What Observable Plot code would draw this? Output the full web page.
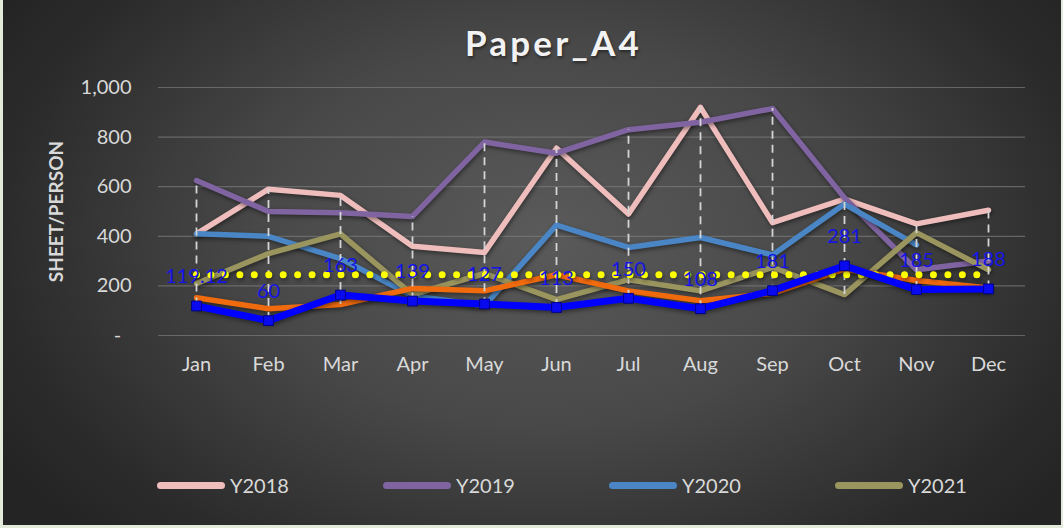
<!DOCTYPE html>
<html>
<head>
<meta charset="utf-8">
<script src="https://cdn.jsdelivr.net/npm/d3@7"></script>
<script src="https://cdn.jsdelivr.net/npm/@observablehq/plot@0.6"></script>
<style>
  html, body { margin: 0; padding: 0; background: #262626; }
  #wrap {
    position: relative; width: 1063px; height: 528px; overflow: hidden;
    font-family: Lato, "Open Sans", sans-serif;
    background: radial-gradient(ellipse 640px 430px at 545px 235px, #5a5a5a 0%, #484848 45%, #2b2b2b 85%, #242424 100%);
    box-shadow: inset 3px 0 0 #e4eadb, inset -2px 0 0 #e4eadb, inset 0 -3px 0 #e4eadb;
  }
  #title {
    position: absolute; top: 21px; left: 22px; width: 1063px; text-align: center;
    font-size: 35px; font-weight: bold; letter-spacing: 3.2px; color: #f2f2f2;
    text-shadow: 1px 2px 3px rgba(0,0,0,0.45);
  }
  #chart { position: absolute; left: 0; top: 0; }
  #legend {
    position: absolute; left: 157px; top: 472px; display: flex;
    font-size: 20px; color: #d9d9d9;
  }
  .item { display: flex; align-items: center; width: 226px; height: 26px; }
  .sw { width: 68px; height: 7px; border-radius: 4px; margin-right: 5px; }
  svg g[aria-label="line"] path { filter: drop-shadow(1px 2px 2px rgba(0,0,0,0.45)); }
</style>
</head>
<body>
<div id="wrap">
  <div id="title">Paper_A4</div>
  <div id="chart"></div>
  <div id="legend"></div>
</div>
<script>
const months = ["Jan","Feb","Mar","Apr","May","Jun","Jul","Aug","Sep","Oct","Nov","Dec"];
const yTicks = [0, 200, 400, 600, 800, 1000];
const legendNames = ["Y2018", "Y2019", "Y2020", "Y2021"];
const y2018 = [410, 590, 565, 360, 335, 755, 490, 920, 455, 550, 450, 505];
const y2019 = [625, 500, 495, 480, 780, 735, 830, 860, 915, 555, 265, 300];
const y2020 = [410, 400, 310, 160, 120, 445, 355, 395, 325, 530, 365, null];
const y2021 = [210, 330, 410, 165, 250, 145, 225, 180, 275, 165, 415, 265];
const orangeSeries = [152, 108, 125, 190, 180, 245, 180, 140, 170, 268, 222, 192];
const blueSeries = [119.12, 60, 163, 139, 127, 113, 150, 108, 181, 281, 185, 188];
const blueLabels = ["119.12", "60", "163", "139", "127", "113", "150", "108", "181", "281", "185", "188"];
const averageLevel = 245;

const seriesNames = ["Y2018", "Y2019", "Y2020", "Y2021", "Orange"];
const seriesColors = ["#f0bdbd", "#8064a2", "#4a86c5", "#9a955e", "#f06a0e"];
const allSeries = [y2018, y2019, y2020, y2021, orangeSeries];

const rows = [];
allSeries.forEach((arr, si) => arr.forEach((v, i) => {
  if (v != null) rows.push({series: seriesNames[si], month: months[i], value: v});
}));
const blueRows = blueSeries.map((v, i) => ({month: months[i], value: v, label: blueLabels[i]}));
const hiLo = months.map((m, i) => {
  const vals = [...allSeries.map(a => a[i]), blueSeries[i]].filter(v => v != null);
  return {month: m, lo: d3.min(vals), hi: d3.max(vals)};
});

const plot = Plot.plot({
  width: 1063,
  height: 400,
  marginLeft: 158,
  marginRight: 38,
  marginTop: 87,
  marginBottom: 65,
  style: {background: "transparent", color: "#d9d9d9", fontFamily: "Lato, sans-serif", fontSize: "20px", overflow: "visible"},
  x: {type: "point", domain: months, padding: 0.5},
  y: {domain: [0, 1000]},
  color: {domain: seriesNames, range: seriesColors},
  marks: [
    Plot.gridY(yTicks, {stroke: "#7a7a7a", strokeOpacity: 0.7, strokeWidth: 1.2}),
    Plot.axisY(yTicks, {tickSize: 0, tickPadding: 27, label: null, fontSize: 20,
      tickFormat: d => d === 0 ? "-\u00a0\u00a0" : d3.format(",")(d)}),
    Plot.axisX({tickSize: 0, tickPadding: 21, label: null, fontSize: 20}),
    Plot.text(["SHEET/PERSON"], {frameAnchor: "left", dx: -102, rotate: -90, textAnchor: "middle",
      lineAnchor: "middle", fontWeight: "bold", fontSize: 19, fill: "#d9d9d9"}),
    Plot.line(rows, {x: "month", y: "value", z: "series", stroke: "series", strokeWidth: 5.5,
      strokeLinejoin: "round", strokeLinecap: "round"}),
    Plot.ruleX(hiLo, {x: "month", y1: "lo", y2: "hi", stroke: "#d4d4d4", strokeWidth: 1.8, strokeDasharray: "8,6"}),
    Plot.line(months, {x: d => d, y: () => averageLevel, stroke: "#ffff00", strokeWidth: 7,
      strokeDasharray: "0,14.45", strokeLinecap: "round"}),
    Plot.line(blueRows, {x: "month", y: "value", stroke: "#0000ff", strokeWidth: 7, strokeLinejoin: "round"}),
    Plot.dot(blueRows, {x: "month", y: "value", symbol: "square", r: 5.5, fill: "#0a0af0", stroke: "#00008a", strokeWidth: 1}),
    Plot.text(blueRows, {x: "month", y: "value", text: "label", dy: -29, fontSize: 20, fill: "#1414e6", lineAnchor: "middle"})
  ]
});
document.getElementById("chart").appendChild(plot);

const legend = document.getElementById("legend");
legendNames.forEach((name, i) => {
  const item = document.createElement("div");
  item.className = "item";
  const sw = document.createElement("div");
  sw.className = "sw";
  sw.style.background = seriesColors[i];
  const tx = document.createElement("span");
  tx.textContent = name;
  item.appendChild(sw);
  item.appendChild(tx);
  legend.appendChild(item);
});
</script>
</body>
</html>
